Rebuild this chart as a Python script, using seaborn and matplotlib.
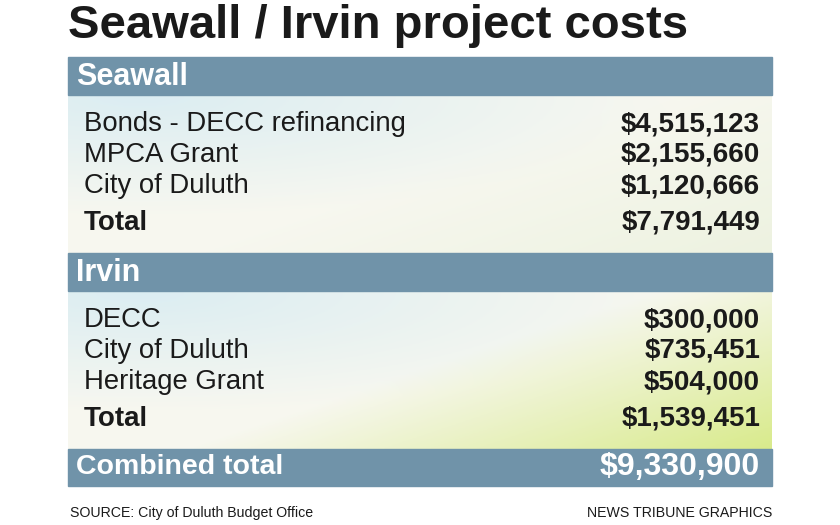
import numpy as np
import matplotlib
matplotlib.use("Agg")
import matplotlib.pyplot as plt
import seaborn as sns
from matplotlib.patches import Rectangle

sns.set_theme(style="white")
plt.rcParams['font.family'] = ['Liberation Sans', 'DejaVu Sans']

title = "Seawall / Irvin project costs"
seawall_labels = ["Bonds - DECC refinancing", "MPCA Grant", "City of Duluth"]
seawall_values = ["$4,515,123", "$2,155,660", "$1,120,666"]
seawall_total = "$7,791,449"
irvin_labels = ["DECC", "City of Duluth", "Heritage Grant"]
irvin_values = ["$300,000", "$735,451", "$504,000"]
irvin_total = "$1,539,451"
combined_total = "$9,330,900"
source = "SOURCE: City of Duluth Budget Office"
credit = "NEWS TRIBUNE GRAPHICS"

BAR = "#7093a9"
fig = plt.figure(figsize=(8.4, 5.25), dpi=100)
ax = fig.add_axes([0, 0, 1, 1])
ax.set_xlim(0, 840); ax.set_ylim(525, 0); ax.axis("off")

def body(y0, y1, green):
    h, w = 60, 200
    yy, xx = np.mgrid[0:1:h*1j, 0:1:w*1j]
    base = np.array([0.97, 0.97, 0.94])
    blue = np.array([0.86, 0.93, 0.95])
    grn = np.array([0.85, 0.92, 0.55]) if green else np.array([0.93, 0.95, 0.88])
    t1 = np.clip(1 - np.hypot(xx - 0.1, yy - 0.0) * 1.3, 0, 1)[..., None]
    t2 = np.clip((xx * 1.2 + yy * 0.8 - 1.0), 0, 1)[..., None]
    img = base * (1 - t1) + blue * t1
    img = img * (1 - t2) + grn * t2
    ax.imshow(np.clip(img, 0, 1), extent=[68, 772, y1, y0], aspect="auto", zorder=0)

ax.text(68, 38, title, fontsize=34, fontweight="heavy", va="baseline", ha="left", color="#1a1a1a")

def section(name, y_bar, labels, values, total, green):
    ax.add_patch(Rectangle((68, y_bar), 704, 38, color=BAR, zorder=1))
    ax.text(76, y_bar + 20, name, fontsize=22, fontweight="bold", color="white", va="center")
    body(y_bar + 38, y_bar + 196, green)
    for i, (l, v) in enumerate(zip(labels, values)):
        y = y_bar + 67 + 31 * i
        ax.text(84, y, l, fontsize=19.8, va="center", color="#1a1a1a")
        ax.text(760, y, v, fontsize=20, fontweight="bold", va="center", ha="right", color="#1a1a1a")
    y = y_bar + 166
    ax.text(84, y, "Total", fontsize=20, fontweight="bold", va="center", color="#1a1a1a")
    ax.text(760, y, total, fontsize=20, fontweight="bold", va="center", ha="right", color="#1a1a1a")

section("Seawall", 57, seawall_labels, seawall_values, seawall_total, False)
section("Irvin", 253, irvin_labels, irvin_values, irvin_total, True)

ax.add_patch(Rectangle((68, 449), 704, 37, color=BAR, zorder=1))
ax.text(76, 467, "Combined total", fontsize=20.5, fontweight="bold", color="white", va="center")
ax.text(760, 467, combined_total, fontsize=23, fontweight="bold", color="white", va="center", ha="right")

ax.text(70, 513, source, fontsize=10.2, va="center", color="#1a1a1a", fontstretch="condensed")
ax.text(772, 513, credit, fontsize=10.2, va="center", ha="right", color="#1a1a1a", fontstretch="condensed")

fig.savefig("out.png", dpi=100)
